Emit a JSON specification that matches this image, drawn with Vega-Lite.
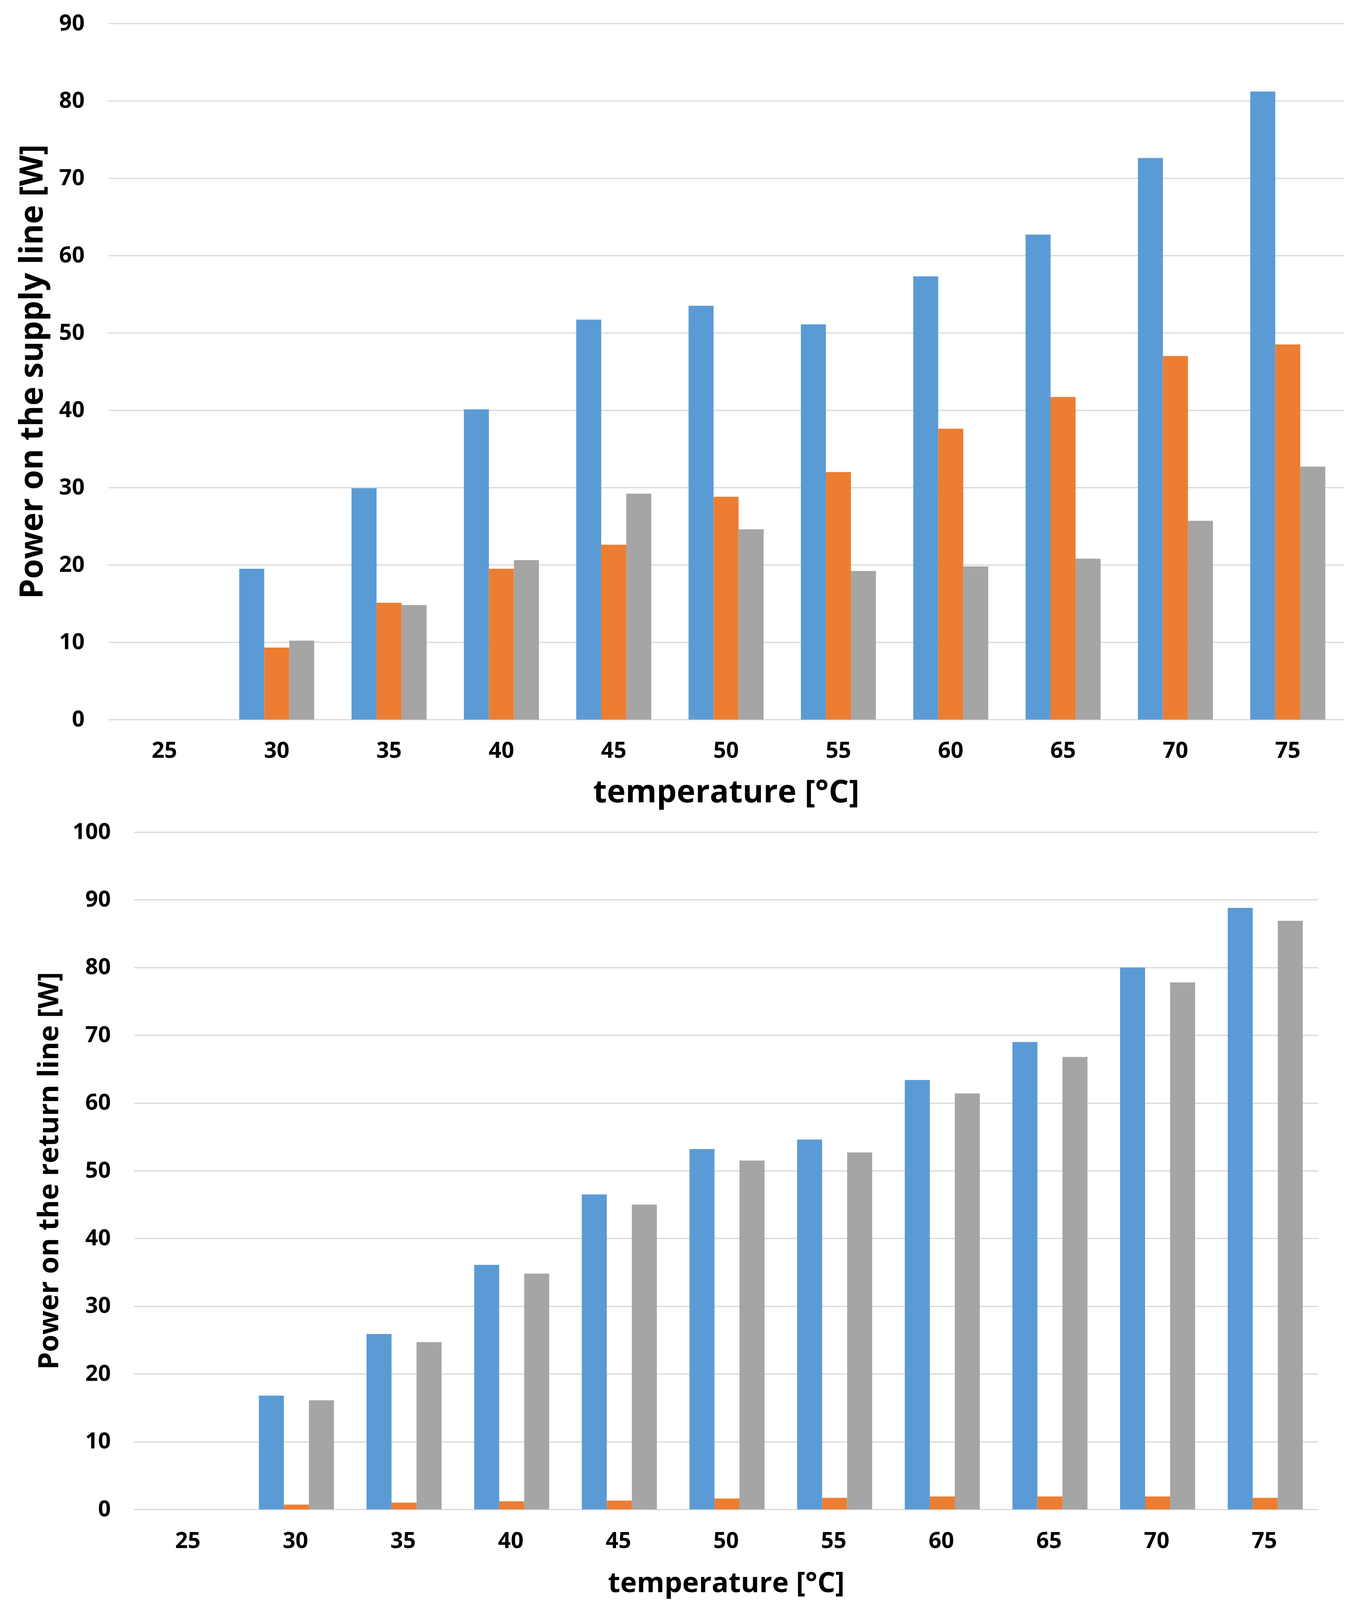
{
  "$schema": "https://vega.github.io/schema/vega-lite/v6.json",
  "padding": {"left": 42, "top": 31, "right": 34, "bottom": 6},
  "background": "white",
  "center": true,
  "spacing": 32,
  "config": {
    "view": {"stroke": null},
    "font": "Open Sans",
    "axis": {
      "labelFont": "Open Sans",
      "labelFontWeight": "bold",
      "labelFontSize": 57,
      "labelColor": "#000000",
      "titleFont": "Open Sans",
      "titleFontWeight": "bold",
      "titleColor": "#000000",
      "ticks": false,
      "domain": false,
      "gridColor": "#D9D9D9",
      "gridWidth": 3
    },
    "axisX": {"grid": false, "labelAngle": 0}
  },
  "datasets": {
    "supply": [
      {"temperature": 25, "series": "Series 1", "power": 0},
      {"temperature": 25, "series": "Series 2", "power": 0},
      {"temperature": 25, "series": "Series 3", "power": 0},
      {"temperature": 30, "series": "Series 1", "power": 19.5},
      {"temperature": 30, "series": "Series 2", "power": 9.3},
      {"temperature": 30, "series": "Series 3", "power": 10.2},
      {"temperature": 35, "series": "Series 1", "power": 29.9},
      {"temperature": 35, "series": "Series 2", "power": 15.1},
      {"temperature": 35, "series": "Series 3", "power": 14.8},
      {"temperature": 40, "series": "Series 1", "power": 40.1},
      {"temperature": 40, "series": "Series 2", "power": 19.5},
      {"temperature": 40, "series": "Series 3", "power": 20.6},
      {"temperature": 45, "series": "Series 1", "power": 51.7},
      {"temperature": 45, "series": "Series 2", "power": 22.6},
      {"temperature": 45, "series": "Series 3", "power": 29.2},
      {"temperature": 50, "series": "Series 1", "power": 53.5},
      {"temperature": 50, "series": "Series 2", "power": 28.8},
      {"temperature": 50, "series": "Series 3", "power": 24.6},
      {"temperature": 55, "series": "Series 1", "power": 51.1},
      {"temperature": 55, "series": "Series 2", "power": 32.0},
      {"temperature": 55, "series": "Series 3", "power": 19.2},
      {"temperature": 60, "series": "Series 1", "power": 57.3},
      {"temperature": 60, "series": "Series 2", "power": 37.6},
      {"temperature": 60, "series": "Series 3", "power": 19.8},
      {"temperature": 65, "series": "Series 1", "power": 62.7},
      {"temperature": 65, "series": "Series 2", "power": 41.7},
      {"temperature": 65, "series": "Series 3", "power": 20.8},
      {"temperature": 70, "series": "Series 1", "power": 72.6},
      {"temperature": 70, "series": "Series 2", "power": 47.0},
      {"temperature": 70, "series": "Series 3", "power": 25.7},
      {"temperature": 75, "series": "Series 1", "power": 81.2},
      {"temperature": 75, "series": "Series 2", "power": 48.5},
      {"temperature": 75, "series": "Series 3", "power": 32.7}
    ],
    "return": [
      {"temperature": 25, "series": "Series 1", "power": 0},
      {"temperature": 25, "series": "Series 2", "power": 0},
      {"temperature": 25, "series": "Series 3", "power": 0},
      {"temperature": 30, "series": "Series 1", "power": 16.8},
      {"temperature": 30, "series": "Series 2", "power": 0.7},
      {"temperature": 30, "series": "Series 3", "power": 16.1},
      {"temperature": 35, "series": "Series 1", "power": 25.9},
      {"temperature": 35, "series": "Series 2", "power": 1.0},
      {"temperature": 35, "series": "Series 3", "power": 24.7},
      {"temperature": 40, "series": "Series 1", "power": 36.1},
      {"temperature": 40, "series": "Series 2", "power": 1.2},
      {"temperature": 40, "series": "Series 3", "power": 34.8},
      {"temperature": 45, "series": "Series 1", "power": 46.5},
      {"temperature": 45, "series": "Series 2", "power": 1.3},
      {"temperature": 45, "series": "Series 3", "power": 45.0},
      {"temperature": 50, "series": "Series 1", "power": 53.2},
      {"temperature": 50, "series": "Series 2", "power": 1.6},
      {"temperature": 50, "series": "Series 3", "power": 51.5},
      {"temperature": 55, "series": "Series 1", "power": 54.6},
      {"temperature": 55, "series": "Series 2", "power": 1.7},
      {"temperature": 55, "series": "Series 3", "power": 52.7},
      {"temperature": 60, "series": "Series 1", "power": 63.4},
      {"temperature": 60, "series": "Series 2", "power": 1.9},
      {"temperature": 60, "series": "Series 3", "power": 61.4},
      {"temperature": 65, "series": "Series 1", "power": 69.0},
      {"temperature": 65, "series": "Series 2", "power": 1.9},
      {"temperature": 65, "series": "Series 3", "power": 66.8},
      {"temperature": 70, "series": "Series 1", "power": 80.0},
      {"temperature": 70, "series": "Series 2", "power": 1.9},
      {"temperature": 70, "series": "Series 3", "power": 77.8},
      {"temperature": 75, "series": "Series 1", "power": 88.8},
      {"temperature": 75, "series": "Series 2", "power": 1.7},
      {"temperature": 75, "series": "Series 3", "power": 86.9}
    ]
  },
  "vconcat": [
    {
      "width": 3163,
      "height": 1782,
      "data": {"name": "supply"},
      "mark": {"type": "bar"},
      "encoding": {
        "x": {
          "field": "temperature",
          "type": "ordinal",
          "scale": {"paddingInner": 0.332, "paddingOuter": 0.166},
          "axis": {"title": "temperature [°C]", "titleFontSize": 81, "labelPadding": 52, "titlePadding": 39}
        },
        "xOffset": {"field": "series", "type": "nominal", "sort": ["Series 1", "Series 2", "Series 3"]},
        "y": {
          "field": "power",
          "type": "quantitative",
          "scale": {"domain": [0, 90], "nice": false},
          "axis": {"title": "Power on the supply line [W]", "values": [0, 10, 20, 30, 40, 50, 60, 70, 80, 90], "titleFontSize": 82, "labelPadding": 61, "titlePadding": 25}
        },
        "color": {
          "field": "series",
          "type": "nominal",
          "scale": {"domain": ["Series 1", "Series 2", "Series 3"], "range": ["#5B9BD5", "#ED7D31", "#A5A5A5"]},
          "legend": null
        }
      }
    },
    {
      "width": 3031,
      "height": 1734,
      "data": {"name": "return"},
      "mark": {"type": "bar"},
      "encoding": {
        "x": {
          "field": "temperature",
          "type": "ordinal",
          "scale": {"paddingInner": 0.32, "paddingOuter": 0.16},
          "axis": {"title": "temperature [°C]", "titleFontSize": 72, "labelPadding": 53, "titlePadding": 45}
        },
        "xOffset": {"field": "series", "type": "nominal", "sort": ["Series 1", "Series 2", "Series 3"]},
        "y": {
          "field": "power",
          "type": "quantitative",
          "scale": {"domain": [0, 100], "nice": false},
          "axis": {"title": "Power on the return line [W]", "values": [0, 10, 20, 30, 40, 50, 60, 70, 80, 90, 100], "titleFontSize": 72, "labelPadding": 60, "titlePadding": 22}
        },
        "color": {
          "field": "series",
          "type": "nominal",
          "scale": {"domain": ["Series 1", "Series 2", "Series 3"], "range": ["#5B9BD5", "#ED7D31", "#A5A5A5"]},
          "legend": null
        }
      }
    }
  ],
  "resolve": {"scale": {"color": "shared"}}
}
